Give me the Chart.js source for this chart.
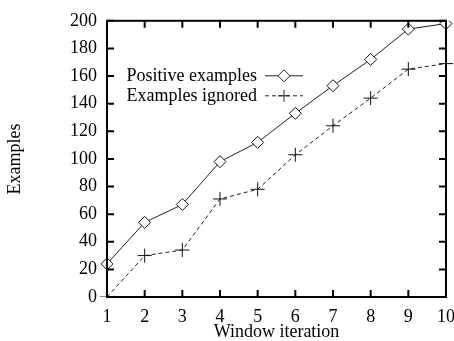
<!DOCTYPE html>
<html>
<head>
<meta charset="utf-8">
<script src="https://cdn.jsdelivr.net/npm/chart.js@4"></script>
<style>
  html, body { margin: 0; padding: 0; background: #fff; }
  #wrap { width: 454px; height: 341px; }
</style>
</head>
<body>
<div id="wrap"><canvas id="myChart" width="454" height="341"></canvas></div>
<script>
const iterations = ["1", "2", "3", "4", "5", "6", "7", "8", "9", "10"];
const positiveExamples = [24, 54, 67, 98, 112, 133, 153, 172, 194, 198];
const examplesIgnored = [0, 30, 34, 71, 78, 103, 124, 144, 165, 169];
const yTicks = [0, 20, 40, 60, 80, 100, 120, 140, 160, 180, 200];

const serif = "'Liberation Serif', 'DejaVu Serif', serif";

// gnuplot-like frame with inward ticks on all four sides
const framePlugin = {
  id: "frame",
  afterDatasetsDraw(chart) {
    const { ctx, chartArea: a, scales } = chart;
    const len = 7;
    ctx.save();
    ctx.strokeStyle = "#000";
    ctx.lineWidth = 2;
    ctx.beginPath();
    iterations.forEach((v, i) => {
      const x = scales.x.getPixelForValue(i);
      ctx.moveTo(x, a.bottom); ctx.lineTo(x, a.bottom - len);
      ctx.moveTo(x, a.top); ctx.lineTo(x, a.top + len);
    });
    yTicks.forEach((v) => {
      const y = scales.y.getPixelForValue(v);
      ctx.moveTo(a.left, y); ctx.lineTo(a.left + len, y);
      ctx.moveTo(a.right, y); ctx.lineTo(a.right - len, y);
    });
    ctx.stroke();
    ctx.strokeRect(a.left, a.top, a.right - a.left, a.bottom - a.top);
    ctx.restore();
  }
};

// key inside the plot, text right aligned, sample to the right
const keyPlugin = {
  id: "key",
  afterDatasetsDraw(chart) {
    const { ctx, chartArea: a } = chart;
    const textRight = a.left + 150;
    const x1 = textRight + 8, x2 = textRight + 46, xm = (x1 + x2) / 2;
    ctx.save();
    ctx.font = "18px " + serif;
    ctx.fillStyle = "#000";
    ctx.textAlign = "right";
    ctx.textBaseline = "middle";
    chart.data.datasets.forEach((ds, i) => {
      const y = a.top + 55 + i * 20;
      ctx.fillText(ds.label, textRight, y);
      ctx.strokeStyle = ds.borderColor;
      ctx.lineWidth = 1;
      ctx.setLineDash(ds.borderDash || []);
      ctx.beginPath();
      ctx.moveTo(x1, y); ctx.lineTo(x2, y);
      ctx.stroke();
      ctx.setLineDash([]);
      ctx.beginPath();
      if (ds.pointStyle === "rectRot") {
        ctx.fillStyle = "#fff";
        ctx.moveTo(xm, y - 6); ctx.lineTo(xm + 6, y); ctx.lineTo(xm, y + 6); ctx.lineTo(xm - 6, y);
        ctx.closePath();
        ctx.fill();
        ctx.fillStyle = "#000";
      } else {
        ctx.moveTo(xm - 6, y); ctx.lineTo(xm + 6, y);
        ctx.moveTo(xm, y - 6); ctx.lineTo(xm, y + 6);
      }
      ctx.stroke();
    });
    ctx.restore();
  }
};

const ctx = document.getElementById("myChart").getContext("2d");
new Chart(ctx, {
  type: "line",
  data: {
    labels: iterations,
    datasets: [
      {
        label: "Positive examples",
        data: positiveExamples,
        borderColor: "#222",
        borderWidth: 1,
        pointStyle: "rectRot",
        pointRadius: 6,
        pointBackgroundColor: "#fff",
        pointBorderColor: "#111",
        pointBorderWidth: 1,
        tension: 0,
      },
      {
        label: "Examples ignored",
        data: examplesIgnored,
        borderColor: "#222",
        borderWidth: 1,
        borderDash: [4, 3],
        pointStyle: "cross",
        pointRadius: 7,
        pointBorderColor: "#111",
        pointBorderWidth: 1,
        tension: 0,
      },
    ],
  },
  options: {
    responsive: false,
    animation: false,
    layout: { padding: { top: 17, right: 0, left: 0, bottom: 0 } },
    plugins: {
      legend: { display: false },
      tooltip: { enabled: false },
    },
    scales: {
      x: {
        offset: false,
        grid: { display: false, drawTicks: false },
        border: { display: false },
        ticks: { color: "#000", padding: 9, font: { family: serif, size: 18 }, maxRotation: 0 },
        title: {
          display: true,
          text: "Window iteration",
          color: "#000",
          font: { family: serif, size: 18, lineHeight: 1 },
          padding: 0,
        },
        afterFit(scale) { scale.height = 44; scale.paddingRight = 8; },
      },
      y: {
        min: 0,
        max: 200,
        grid: { display: false, drawTicks: false },
        border: { display: false },
        ticks: { stepSize: 20, color: "#000", padding: 10, font: { family: serif, size: 18 } },
        title: {
          display: true,
          text: "Examples",
          color: "#000",
          font: { family: serif, size: 18 },
          padding: { top: 4, bottom: 0 },
        },
        afterFit(scale) { scale.width = 107; },
      },
    },
  },
  plugins: [framePlugin, keyPlugin],
});
</script>
</body>
</html>
